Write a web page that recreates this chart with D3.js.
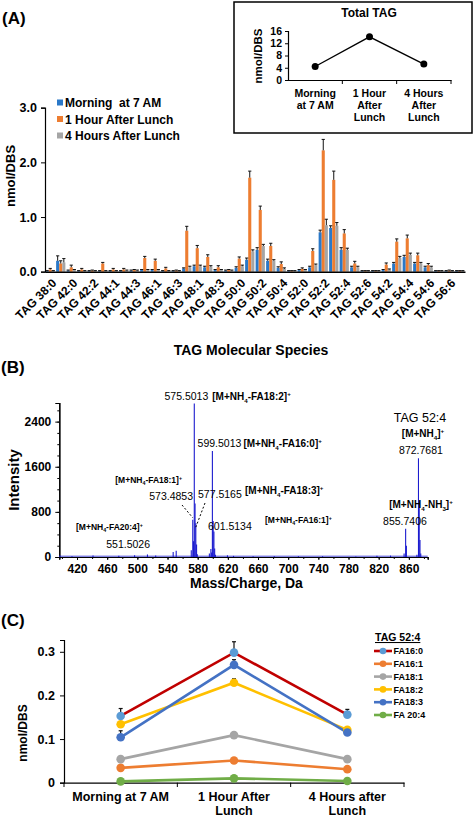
<!DOCTYPE html>
<html><head><meta charset="utf-8">
<script src="https://cdn.jsdelivr.net/npm/d3@7"></script>
<style>
html,body{margin:0;padding:0;background:#fff;}
svg{display:block;font-family:"Liberation Sans",Arial,Helvetica,sans-serif;}
</style></head><body>
<svg id="chart" width="473" height="817"></svg>
<script>
// ---------- Panel A data ----------
const tagSpecies = ["TAG 38:0","TAG 40:0","TAG 42:0","TAG 42:1","TAG 42:2","TAG 44:0","TAG 44:1","TAG 44:2","TAG 44:3","TAG 46:0","TAG 46:1","TAG 46:2","TAG 46:3","TAG 48:0","TAG 48:1","TAG 48:2","TAG 48:3","TAG 48:4","TAG 50:0","TAG 50:1","TAG 50:2","TAG 50:3","TAG 50:4","TAG 50:5","TAG 52:0","TAG 52:1","TAG 52:2","TAG 52:3","TAG 52:4","TAG 52:5","TAG 52:6","TAG 54:1","TAG 54:2","TAG 54:3","TAG 54:4","TAG 54:5","TAG 54:6","TAG 56:5","TAG 56:6","TAG 56:7"];
const morning    = [0.01,0.20,0.02,0.01,0.01,0.01,0.01,0.01,0.02,0.03,0.03,0.01,0.01,0.06,0.10,0.08,0.03,0.02,0.07,0.22,0.40,0.20,0.07,0.01,0.03,0.08,0.72,0.80,0.40,0.08,0.01,0.01,0.03,0.15,0.27,0.15,0.08,0.01,0.01,0.01];
const oneHour    = [0.04,0.15,0.08,0.04,0.02,0.15,0.04,0.04,0.03,0.25,0.20,0.06,0.02,0.75,0.43,0.27,0.08,0.03,0.24,1.72,1.13,0.47,0.14,0.01,0.05,0.38,2.22,1.68,0.70,0.15,0.01,0.01,0.13,0.55,0.61,0.30,0.12,0.01,0.02,0.01];
const fourHours  = [0.01,0.17,0.03,0.01,0.01,0.01,0.01,0.02,0.02,0.03,0.03,0.01,0.01,0.08,0.10,0.09,0.03,0.02,0.10,0.37,0.47,0.20,0.05,0.01,0.03,0.12,0.85,0.84,0.40,0.08,0.01,0.01,0.04,0.25,0.31,0.15,0.08,0.01,0.01,0.01];
const morningErr   = [0.01,0.09,0.01,0.01,0.01,0.01,0.01,0.01,0.01,0.01,0.01,0.01,0.01,0.01,0.02,0.02,0.01,0.01,0.02,0.03,0.04,0.03,0.02,0.01,0.01,0.02,0.04,0.04,0.04,0.02,0.01,0.01,0.01,0.02,0.03,0.02,0.02,0.01,0.01,0.01];
const oneHourErr   = [0.02,0.05,0.04,0.02,0.01,0.02,0.02,0.02,0.01,0.03,0.03,0.02,0.01,0.08,0.05,0.04,0.03,0.01,0.03,0.12,0.07,0.05,0.04,0.01,0.02,0.04,0.20,0.16,0.07,0.04,0.01,0.01,0.03,0.05,0.06,0.04,0.03,0.01,0.01,0.01];
const fourHoursErr = [0.01,0.07,0.01,0.01,0.01,0.01,0.01,0.01,0.01,0.01,0.01,0.01,0.01,0.02,0.02,0.02,0.01,0.01,0.02,0.03,0.03,0.02,0.02,0.01,0.01,0.02,0.11,0.06,0.03,0.02,0.01,0.01,0.01,0.03,0.03,0.02,0.02,0.01,0.01,0.01];
const seriesA = ["Morning  at 7 AM","1 Hour After Lunch","4 Hours After Lunch"];
const colorsA = ["#2a78c8","#ed7d31","#a5a5a5"];
const yTicksA = [0,1,2,3];

// ---------- Inset data ----------
const totalCats = ["Morning at 7 AM","1 Hour After Lunch","4 Hours After Lunch"];
const totalCatLines = [["Morning","at 7 AM"],["1 Hour","After","Lunch"],["4 Hours","After","Lunch"]];
const totalTag = [4.4, 14.1, 5.2];
const totalTicks = [0,4,8,12,16];

// ---------- Panel B data ----------
const peakMz =        [397.3,413.3,441.2,475.4,496.3,513.4,524.3,547.5,551.5,571.5,573.49,574.49,575.50,576.50,577.52,578.52,579.5,595.5,597.5,598.5,599.50,600.51,601.51,602.5,603.5,619.5,627.5,653.5,681.6,713.6,745.6,789.7,817.7,835.7,853.7,855.74,856.74,870.7,872.77,873.77,874.78,875.8];
const peakIntensity = [20,   15,   25,   20,   30,   45,   25,   90,   110,  120,  660,   280,   2720,  950,   600,   220,   50,   60,   140,  80,   1880,  640,   450,   150,  40,   30,   20,   15,   15,   12,   12,   10,   20,   25,   60,   500,   200,   40,   1750,  1000,  300,   60];
const mzTicks = [420,460,500,540,580,620,660,700,740,780,820,860];
const intensityTicks = [0,800,1600,2400];

// ---------- Panel C data ----------
const timeCats = ["Morning at 7 AM","1 Hour After Lunch","4 Hours after Lunch"];
const timeCatLines = [["Morning at 7 AM"],["1 Hour After","Lunch"],["4 Hours after","Lunch"]];
const faNames = ["FA16:0","FA16:1","FA18:1","FA18:2","FA18:3","FA 20:4"];
const fa160 = [0.153,0.298,0.156], fa160Err = [0.017,0.025,0.012];
const fa161 = [0.034,0.051,0.031], fa161Err = [0.003,0.005,0.003];
const fa181 = [0.054,0.109,0.054], fa181Err = [0.003,0.006,0.004];
const fa182 = [0.134,0.229,0.121], fa182Err = [0.006,0.009,0.006];
const fa183 = [0.104,0.270,0.115], fa183Err = [0.015,0.012,0.008];
const fa204 = [0.003,0.010,0.004], fa204Err = [0.001,0.002,0.001];
const lineColorsC = ["#c00000","#ed7d31","#a5a5a5","#ffc000","#4472c4","#70ad47"];
const markColorsC = ["#5b9bd5","#ed7d31","#a5a5a5","#ffc000","#4472c4","#70ad47"];
const yTicksC = [0,0.1,0.2,0.3];

const svg = d3.select("#chart");
svg.append("rect").attr("width",473).attr("height",817).attr("fill","#fff");

function styleAxis(g, fs){
  g.selectAll("path.domain").attr("stroke","#000").attr("stroke-width",1.2);
  g.selectAll(".tick line").attr("stroke","#000");
  g.selectAll(".tick text").attr("fill","#000").attr("font-weight","bold").attr("font-size",fs)
   .attr("font-family",'"Liberation Sans",Arial,sans-serif');
}

// ================= PANEL A =================
const A = svg.append("g");
A.append("text").attr("x",2).attr("y",24).attr("font-size",17).attr("font-weight","bold").text("(A)");
const xA = d3.scaleBand().domain(tagSpecies).range([45,465]).paddingInner(0.12).paddingOuter(0.06);
const x1 = d3.scaleBand().domain([0,1,2]).range([0,xA.bandwidth()]);
const yA = d3.scaleLinear().domain([0,3]).range([271.7,107.7]);
const dataA = [morning, oneHour, fourHours];
const errA = [morningErr, oneHourErr, fourHoursErr];

dataA.forEach((ser,s)=>{
  A.append("g").selectAll("rect").data(ser).join("rect")
    .attr("x",(d,i)=>xA(tagSpecies[i])+x1(s))
    .attr("width",x1.bandwidth())
    .attr("y",d=>yA(d))
    .attr("height",d=>yA(0)-yA(d))
    .attr("fill",colorsA[s]);
});
dataA.forEach((ser,s)=>{
  const g = A.append("g").attr("stroke","#111").attr("stroke-width",1);
  ser.forEach((d,i)=>{
    const cx = xA(tagSpecies[i])+x1(s)+x1.bandwidth()/2;
    const top = yA(d+errA[s][i]);
    g.append("line").attr("x1",cx).attr("x2",cx).attr("y1",yA(d)).attr("y2",top);
    g.append("line").attr("x1",cx-1.6).attr("x2",cx+1.6).attr("y1",top).attr("y2",top);
  });
});
const yAxA = A.append("g").attr("transform","translate(45,0)")
  .call(d3.axisLeft(yA).tickValues(yTicksA).tickFormat(d3.format(".1f")).tickSize(4).tickPadding(4));
styleAxis(yAxA,12.5);
const xAxA = A.append("g").attr("transform","translate(0,271.7)")
  .call(d3.axisBottom(xA).tickValues(tagSpecies.filter((d,i)=>i%2===0)).tickSize(0));
styleAxis(xAxA,12);
xAxA.select("path.domain").attr("stroke-width",1.5);
xAxA.selectAll(".tick text").attr("x",0).attr("y",0).attr("dy","0.35em")
  .attr("transform","translate(4,9) rotate(-45)").style("text-anchor","end");
A.append("text").attr("transform","translate(15,176) rotate(-90)").attr("text-anchor","middle")
  .attr("font-size",13).attr("font-weight","bold").text("nmol/DBS");
A.append("text").attr("x",251).attr("y",355).attr("text-anchor","middle")
  .attr("font-size",14).attr("font-weight","bold").text("TAG Molecular Species");
// legend
seriesA.forEach((name,i)=>{
  const y = 103 + i*16.5;
  A.append("rect").attr("x",57).attr("y",y-3.5).attr("width",6).attr("height",6).attr("fill",colorsA[i]);
  A.append("text").attr("x",65).attr("y",y).attr("dy","0.35em").attr("font-size",12)
    .attr("font-weight","bold").attr("xml:space","preserve").style("white-space","pre").text(name);
});

// ---------- Inset ----------
const I = svg.append("g");
I.append("rect").attr("x",234).attr("y",2).attr("width",238).attr("height",131)
  .attr("fill","#fff").attr("stroke","#000").attr("stroke-width",1.5);
I.append("text").attr("x",369).attr("y",17).attr("text-anchor","middle").attr("font-size",12)
  .attr("font-weight","bold").text("Total TAG");
const xI = d3.scaleBand().domain(totalCats).range([288,451]);
const yI = d3.scaleLinear().domain([0,16]).range([80,31]);
const yAxI = I.append("g").attr("transform","translate(288,0)")
  .call(d3.axisLeft(yI).tickValues(totalTicks).tickSize(3).tickPadding(3));
styleAxis(yAxI,10.5);
const xAxI = I.append("g").attr("transform","translate(0,80)")
  .call(d3.axisBottom(xI).tickSize(0).tickFormat(""));
styleAxis(xAxI,10);
totalCats.forEach(c=>{
  const bx = xI(c)+xI.bandwidth();
  I.append("line").attr("x1",bx).attr("x2",bx).attr("y1",80).attr("y2",84).attr("stroke","#000");
});
totalCatLines.forEach((lines,i)=>{
  const t = I.append("text").attr("x",xI(totalCats[i])+xI.bandwidth()/2).attr("y",97)
    .attr("text-anchor","middle").attr("font-size",10.5).attr("font-weight","bold");
  lines.forEach((l,j)=>t.append("tspan").attr("x",xI(totalCats[i])+xI.bandwidth()/2).attr("dy",j?12:0).text(l));
});
I.append("text").attr("transform","translate(262,56) rotate(-90)").attr("text-anchor","middle")
  .attr("font-size",11.5).attr("font-weight","bold").text("nmol/DBS");
I.append("path").datum(totalTag)
  .attr("d",d3.line().x((d,i)=>xI(totalCats[i])+xI.bandwidth()/2).y(d=>yI(d)))
  .attr("fill","none").attr("stroke","#000").attr("stroke-width",1.3);
I.selectAll("circle").data(totalTag).join("circle")
  .attr("cx",(d,i)=>xI(totalCats[i])+xI.bandwidth()/2).attr("cy",d=>yI(d)).attr("r",3.5).attr("fill","#000");

// ================= PANEL B =================
const B = svg.append("g");
B.append("text").attr("x",1).attr("y",373).attr("font-size",17).attr("font-weight","bold").text("(B)");
const xB = d3.scaleLinear().domain([396.5,885]).range([59.3,427.7]);
const yB = d3.scaleLinear().domain([0,2730]).range([557,403]);
const yMinorB = B.append("g").attr("transform","translate(59.3,0)")
  .call(d3.axisLeft(yB).tickValues(d3.range(0,2730,200)).tickSize(2).tickFormat(""));
styleAxis(yMinorB,10);
const yAxB = B.append("g").attr("transform","translate(59.3,0)")
  .call(d3.axisLeft(yB).tickValues(intensityTicks).tickSize(4).tickPadding(4).tickFormat(d3.format("d")));
styleAxis(yAxB,12);
const xMinorB = B.append("g").attr("transform","translate(0,557)")
  .call(d3.axisBottom(xB).tickValues(d3.range(400,885,20)).tickSize(2).tickFormat(""));
styleAxis(xMinorB,10);
const xAxB = B.append("g").attr("transform","translate(0,557)")
  .call(d3.axisBottom(xB).tickValues(mzTicks).tickSize(3).tickPadding(4).tickFormat(d3.format("d")));
styleAxis(xAxB,12);
// spectrum
B.append("line").attr("x1",xB(396.5)).attr("x2",xB(885)).attr("y1",yB(0)-0.8).attr("y2",yB(0)-0.8)
  .attr("stroke","#1c1ccf").attr("stroke-width",0.8);
B.append("g").selectAll("line").data(peakMz).join("line")
  .attr("x1",d=>xB(d)).attr("x2",d=>xB(d)).attr("y1",yB(0))
  .attr("y2",(d,i)=>yB(peakIntensity[i])).attr("stroke","#1c1ccf").attr("stroke-width",1.1);
B.append("text").attr("transform","translate(19,480) rotate(-90)").attr("text-anchor","middle")
  .attr("font-size",15).attr("font-weight","bold").text("Intensity");
B.append("text").attr("x",246.5).attr("y",588).attr("text-anchor","middle")
  .attr("font-size",14).attr("font-weight","bold").text("Mass/Charge, Da");

function ion(g,x,y,segs,size,anchor){
  const t = g.append("text").attr("x",x).attr("y",y).attr("font-size",size).attr("font-weight","bold")
    .attr("text-anchor",anchor||"start");
  let shift = 0;
  segs.forEach(s=>{
    const target = s[1]==="sub" ? size*0.28 : s[1]==="sup" ? -size*0.38 : 0;
    const ts = t.append("tspan").attr("dy",target-shift).text(s[0]);
    if (s[1]) ts.attr("font-size",size*0.62);
    shift = target;
  });
  return t;
}
function num(x,y,txt,size,anchor){
  return B.append("text").attr("x",x).attr("y",y).attr("font-size",size).attr("text-anchor",anchor||"start").text(txt);
}
const ionSegs = frag => [["[M+NH"],["4","sub"],[frag+"]"],["+","sup"]];
num(xB(575.5)+14,400,"575.5013",10.5,"end");
ion(B,xB(575.5)+18,400,ionSegs("-FA18:2"),10);
num(xB(599.5)+29,447,"599.5013",10.5,"end");
ion(B,xB(599.5)+31,447,ionSegs("-FA16:0"),10);
ion(B,182,483,ionSegs("-FA18:1"),8.5,"end");
num(193,500,"573.4853",10.5,"end");
num(198,498,"577.5165",10.5);
ion(B,245,494,ionSegs("-FA18:3"),10);
num(208,530,"601.5134",10.5);
ion(B,265,523,ionSegs("-FA16:1"),8.5);
ion(B,76,530,ionSegs("-FA20:4"),8.5);
num(150,548,"551.5026",10.5,"end");
B.append("text").attr("x",420).attr("y",422).attr("text-anchor","middle").attr("font-size",12.5).text("TAG 52:4");
ion(B,423,437,[["[M+NH"],["4","sub"],["]"],["+","sup"]],10,"middle");
num(421,454,"872.7681",10.5,"middle");
ion(B,421,508,[["[M+NH"],["4","sub"],["-NH"],["3","sub"],["]"],["+","sup"]],10,"middle");
num(405,525,"855.7406",10.5,"middle");
// dashed leader lines
B.append("line").attr("x1",182).attr("y1",505).attr("x2",xB(573.49)).attr("y2",yB(660)-2)
  .attr("stroke","#000").attr("stroke-dasharray","2,2");
B.append("line").attr("x1",205).attr("y1",503).attr("x2",xB(577.52)).attr("y2",yB(600)+4)
  .attr("stroke","#000").attr("stroke-dasharray","2,2");

// ================= PANEL C =================
const C = svg.append("g");
C.append("text").attr("x",1).attr("y",626).attr("font-size",17).attr("font-weight","bold").text("(C)");
const xC = d3.scaleBand().domain(timeCats).range([64,404]);
const yC = d3.scaleLinear().domain([0,0.327]).range([782.7,640]);
const yAxC = C.append("g").attr("transform","translate(64,0)")
  .call(d3.axisLeft(yC).tickValues(yTicksC).tickSize(4).tickPadding(5).tickFormat(d=>d===0?"0":d.toFixed(1)));
styleAxis(yAxC,12.5);
const xAxC = C.append("g").attr("transform","translate(0,782.7)")
  .call(d3.axisBottom(xC).tickSize(0).tickFormat(""));
styleAxis(xAxC,12);
[xC.range()[0]].concat(timeCats.map(c=>xC(c)+xC.bandwidth())).forEach(bx=>{
  C.append("line").attr("x1",bx).attr("x2",bx).attr("y1",782.7).attr("y2",787).attr("stroke","#000");
});
timeCatLines.forEach((lines,i)=>{
  const cx = xC(timeCats[i])+xC.bandwidth()/2;
  const t = C.append("text").attr("x",cx).attr("y",801).attr("text-anchor","middle")
    .attr("font-size",12.5).attr("font-weight","bold");
  lines.forEach((l,j)=>t.append("tspan").attr("x",cx).attr("dy",j?14:0).text(l));
});
C.append("text").attr("transform","translate(27,733) rotate(-90)").attr("text-anchor","middle")
  .attr("font-size",12).attr("font-weight","bold").text("nmol/DBS");
const seriesC = [fa160,fa161,fa181,fa182,fa183,fa204];
const errC = [fa160Err,fa161Err,fa181Err,fa182Err,fa183Err,fa204Err];
const cxC = i => xC(timeCats[i])+xC.bandwidth()/2;
const drawOrder = [5,1,2,3,4,0];
drawOrder.forEach(s=>{
  C.append("path").datum(seriesC[s])
    .attr("d",d3.line().x((d,i)=>cxC(i)).y(d=>yC(d)))
    .attr("fill","none").attr("stroke",lineColorsC[s]).attr("stroke-width",2.6);
});
drawOrder.forEach(s=>{
  seriesC[s].forEach((d,i)=>{
    const top = yC(d+errC[s][i]);
    C.append("line").attr("x1",cxC(i)).attr("x2",cxC(i)).attr("y1",yC(d)).attr("y2",top).attr("stroke","#111").attr("stroke-width",1.2);
    C.append("line").attr("x1",cxC(i)-2).attr("x2",cxC(i)+2).attr("y1",top).attr("y2",top).attr("stroke","#111").attr("stroke-width",1.2);
  });
});
drawOrder.forEach(s=>{
  C.append("g").selectAll("circle").data(seriesC[s]).join("circle")
    .attr("cx",(d,i)=>cxC(i)).attr("cy",d=>yC(d)).attr("r",4.3).attr("fill",markColorsC[s]);
});
// legend C
C.append("text").attr("x",375).attr("y",641).attr("font-size",10.5).attr("font-weight","bold")
  .attr("text-decoration","underline").text("TAG 52:4");
faNames.forEach((n,i)=>{
  const y = 651 + i*12.8;
  C.append("line").attr("x1",374).attr("x2",392).attr("y1",y).attr("y2",y).attr("stroke",lineColorsC[i]).attr("stroke-width",2.6);
  C.append("circle").attr("cx",383).attr("cy",y).attr("r",3.3).attr("fill",markColorsC[i]);
  C.append("text").attr("x",393.5).attr("y",y).attr("dy","0.35em").attr("font-size",9).attr("font-weight","bold").text(n);
});
</script>
</body></html>
